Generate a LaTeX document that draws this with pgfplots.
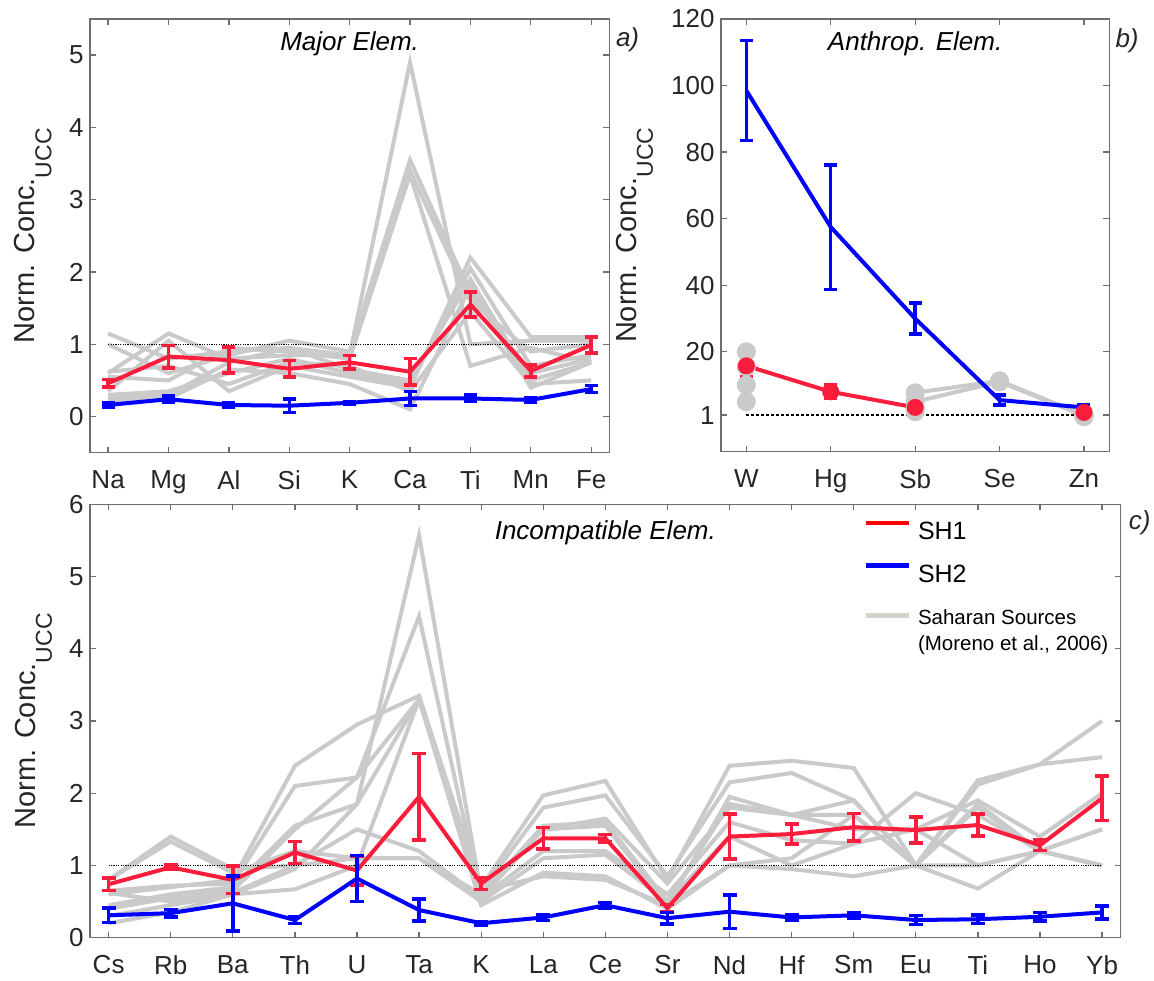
\documentclass[border=0pt]{standalone}
\usepackage{fontspec}
\setmainfont{Liberation Sans}
\usepackage{pgfplots}
\pgfplotsset{compat=1.18}

\definecolor{axgray}{RGB}{110,110,110}
\definecolor{txt}{RGB}{38,38,38}
\definecolor{sred}{RGB}{250,30,60}
\definecolor{sblue}{RGB}{0,0,255}
\definecolor{sgray}{RGB}{202,202,202}
\definecolor{lgray}{RGB}{214,210,204}

\pgfplotsset{
  base/.style={
    scale only axis, anchor=south west,
    axis line style={axgray, line width=1.3pt},
    every tick/.style={axgray, line width=1.3pt},
    major tick length=6pt,
    tick align=inside,
    xtick pos=both, ytick pos=both,
    ticklabel style={font=\fontsize{26}{26}\selectfont, text=txt},
    xticklabel style={yshift=-14pt},
    yticklabel style={xshift=-3pt},
    /pgf/number format/assume math mode=true,
    every axis y label/.style={rotate=90, anchor=south, inner sep=0pt, font=\fontsize{29}{29}\selectfont, text=txt},
    ylabel={Norm. Conc.\raisebox{-16.7pt}{\fontsize{23}{23}\selectfont UCC}},
    title style={at={(0.5,1)}, anchor=north, yshift=-18pt, inner sep=0pt, font=\fontsize{26}{26}\selectfont\itshape, text=black},
    unbounded coords=jump,
  },
  gline/.style={sgray, line width=4pt, forget plot, no markers},
  redline/.style={sred, line width=4pt, forget plot, mark=none,
    error bars/y dir=both, error bars/y explicit, error bars/error mark=|,
    error bars/error bar style={sred, line width=3.5pt},
    error bars/error mark options={sred, mark size=6.5pt, line width=3.5pt}},
  blueline/.style={sblue, line width=4pt, forget plot, mark=none,
    error bars/y dir=both, error bars/y explicit, error bars/error mark=|,
    error bars/error bar style={sblue, line width=3.5pt},
    error bars/error mark options={sblue, mark size=6.5pt, line width=3.5pt}},
}

\begin{document}
\begin{tikzpicture}
\useasboundingbox (0pt,0pt) rectangle (1154pt,980pt);

% ---------------- Panel a ----------------
\begin{axis}[base,
  at={(90pt,527.3pt)}, width=519.3pt, height=433.7pt,
  xmin=-0.3, xmax=8.3, ymin=-0.5, ymax=5.5,
  xtick={0,...,8}, xticklabels={Na,Mg,Al,Si,K,Ca,Ti,Mn,Fe},
  ytick={0,1,2,3,4,5},
  every axis y label/.append style={at={(axis description cs:-0.07375,0.5)}},
  title={Major Elem.},
  extra description/.code={\node[anchor=north west, inner sep=0pt, font=\fontsize{26}{26}\selectfont\itshape, text=txt, xshift=6.5pt, yshift=-8pt] at (1,1) {a)};},
]
\addplot[gline] coordinates {(0,1.15)(1,0.80)(2,0.90)(3,0.95)(4,0.85)(5,4.90)(6,1.00)(7,1.05)(8,1.05)};
\addplot[gline] coordinates {(0,1.00)(1,0.60)(2,0.85)(3,1.05)(4,0.90)(5,3.55)(6,1.70)(7,0.60)(8,0.80)};
\addplot[gline] coordinates {(0,0.60)(1,1.15)(2,0.80)(3,0.85)(4,0.85)(5,3.40)(6,1.60)(7,0.90)(8,1.00)};
\addplot[gline] coordinates {(0,0.55)(1,0.50)(2,0.95)(3,0.90)(4,0.80)(5,3.35)(6,0.70)(7,0.95)(8,0.75)};
\addplot[gline] coordinates {(0,0.35)(1,1.05)(2,0.35)(3,0.70)(4,0.55)(5,0.40)(6,2.20)(7,1.10)(8,1.10)};
\addplot[gline] coordinates {(0,0.30)(1,0.35)(2,0.60)(3,0.80)(4,0.60)(5,0.45)(6,2.05)(7,0.70)(8,0.85)};
\addplot[gline] coordinates {(0,0.25)(1,0.30)(2,0.75)(3,0.95)(4,0.65)(5,0.50)(6,1.90)(7,0.50)(8,0.75)};
\addplot[gline] coordinates {(0,0.20)(1,0.25)(2,0.65)(3,0.60)(4,0.45)(5,0.10)(6,1.80)(7,0.40)(8,0.75)};
\addplot[gline] coordinates {(0,0.62)(1,0.70)(2,0.45)(3,0.75)(4,0.70)(5,0.35)(6,1.45)(7,0.45)(8,0.50)};
\addplot[black, line width=1pt, dash pattern=on 1.2pt off 1.2pt, forget plot] coordinates {(0,1)(8,1)};
\addplot[redline] table[x=x, y=y, y error=e] {
x y e
0 0.46 0.05
1 0.83 0.155
2 0.78 0.18
3 0.66 0.115
4 0.75 0.095
5 0.62 0.185
6 1.55 0.17
7 0.63 0.08
8 0.99 0.11
};
\addplot[blueline] table[x=x, y=y, y error=e] {
x y e
0 0.16 0.03
1 0.24 0.045
2 0.16 0.03
3 0.15 0.095
4 0.19 0.02
5 0.25 0.10
6 0.25 0.045
7 0.23 0.035
8 0.38 0.05
};
\end{axis}

% ---------------- Panel b ----------------
\begin{axis}[base,
  at={(721pt,528.3pt)}, width=388.3pt, height=432.7pt,
  xmin=-0.3, xmax=4.3, ymin=-10, ymax=120,
  xtick={0,...,4}, xticklabels={W,Hg,Sb,Se,Zn},
  ytick={1,20,40,60,80,100,120},
  every axis y label/.append style={at={(axis description cs:-0.1743,0.5)}},
  title={Anthrop. Elem.},
  extra description/.code={\node[anchor=north west, inner sep=0pt, font=\fontsize{26}{26}\selectfont\itshape, text=txt, xshift=6pt, yshift=-9pt] at (1,1) {b)};},
]
\addplot[black, line width=2.5pt, dash pattern=on 2.5pt off 2.5pt, forget plot] coordinates {(0,1)(4,1)};
\addplot[sgray, line width=4pt, forget plot, mark=*, mark size=7.5pt] coordinates {(0,20)(1,nan)(2,7.7)(3,11.3)(4,1.0)};
\addplot[sgray, line width=4pt, forget plot, mark=*, mark size=7.5pt] coordinates {(0,15.5)(1,nan)(2,5)(3,11)(4,0.8)};
\addplot[sgray, line width=4pt, forget plot, mark=*, mark size=7.5pt] coordinates {(0,10)(1,nan)(2,2)(3,nan)(4,0.5)};
\addplot[sgray, line width=4pt, forget plot, mark=*, mark size=7.5pt] coordinates {(0,5)(1,nan)(2,3)(3,nan)(4,1.2)};
\addplot[redline, mark=*, mark size=6.5pt, mark options={solid, fill=sred, draw=sred}] table[x=x, y=y, y error=e] {
x y e
0 15.8 3.3
1 8.0 2.0
2 3.3 0.8
3 nan 0
4 1.8 0.3
};
\addplot[blueline] table[x=x, y=y, y error=e] {
x y e
0 98.5 15
1 57.5 18.7
2 30.0 4.6
3 5.5 1.5
4 3.3 0.8
};
\end{axis}

% ---------------- Panel c ----------------
\begin{axis}[base,
  at={(90pt,42.3pt)}, width=1030.7pt, height=433.4pt,
  xmin=-0.3, xmax=16.3, ymin=0, ymax=6,
  xtick={0,...,16}, xticklabels={Cs,Rb,Ba,Th,U,Ta,K,La,Ce,Sr,Nd,Hf,Sm,Eu,Ti,Ho,Yb},
  ytick={0,1,2,3,4,5,6},
  every axis y label/.append style={at={(axis description cs:-0.03658,0.5)}},
  title={Incompatible Elem.},
  title style={yshift=-4pt},
  extra description/.code={\node[anchor=north west, inner sep=0pt, font=\fontsize{26}{26}\selectfont\itshape, text=txt, xshift=8pt, yshift=-6pt] at (1,1) {c)};},
  legend style={at={(axis description cs:0.75,0.9626)}, anchor=north west, draw=none, fill=none,
    inner sep=0pt, outer sep=0pt, row sep=22pt,
    font=\fontsize{25}{26}\selectfont, text=black,
    nodes={inner sep=0pt},
    /tikz/every odd column/.style={column sep=7pt}},
  legend cell align=left,
]
\addlegendimage{legend image code/.code={\draw[red, line width=4.5pt] (0pt,9pt) -- (43pt,9pt);}}
\addlegendentry{SH1}
\addlegendimage{legend image code/.code={\draw[blue, line width=4.5pt] (0pt,9pt) -- (43pt,9pt);}}
\addlegendentry{SH2}
\addlegendimage{legend image code/.code={\draw[lgray, line width=5pt] (0pt,0pt) -- (43pt,0pt);}}
\addlegendentry{\fontsize{20.5}{26}\selectfont\begin{tabular}[t]{@{}l@{}}Saharan Sources\\(Moreno et al., 2006)\end{tabular}}

\addplot[gline] coordinates {(0,.45)(1,.60)(2,.70)(3,1.55)(4,1.85)(5,5.57)(6,.60)(7,1.55)(8,1.60)(9,.50)(10,1.85)(11,1.70)(12,1.70)(13,1.00)(14,1.85)(15,1.20)(16,1.00)};
\addplot[gline] coordinates {(0,.40)(1,.55)(2,.65)(3,1.50)(4,2.22)(5,4.45)(6,.55)(7,1.50)(8,1.55)(9,.45)(10,1.95)(11,1.70)(12,1.90)(13,1.00)(14,2.12)(15,2.40)(16,3.00)};
\addplot[gline] coordinates {(0,.60)(1,.70)(2,.80)(3,2.38)(4,2.95)(5,3.35)(6,.70)(7,1.97)(8,2.17)(9,.80)(10,2.38)(11,2.45)(12,2.35)(13,1.00)(14,2.18)(15,2.40)(16,2.50)};
\addplot[gline] coordinates {(0,.65)(1,.72)(2,.75)(3,2.10)(4,2.22)(5,3.30)(6,.65)(7,1.80)(8,1.97)(9,.85)(10,2.15)(11,2.28)(12,1.90)(13,1.00)(14,1.80)(15,1.20)(16,1.50)};
\addplot[gline] coordinates {(0,.80)(1,1.40)(2,.95)(3,1.00)(4,1.50)(5,1.20)(6,.55)(7,1.20)(8,1.20)(9,.60)(10,1.60)(11,1.35)(12,1.30)(13,2.00)(14,1.70)(15,1.20)(16,1.00)};
\addplot[gline] coordinates {(0,.80)(1,1.33)(2,.90)(3,1.20)(4,1.10)(5,1.10)(6,.50)(7,1.10)(8,1.15)(9,.50)(10,1.40)(11,1.00)(12,1.30)(13,1.50)(14,1.00)(15,1.20)(16,1.00)};
\addplot[gline] coordinates {(0,.30)(1,.45)(2,.60)(3,.67)(4,1.00)(5,3.30)(6,.45)(7,.90)(8,.85)(9,.40)(10,1.00)(11,.95)(12,.85)(13,1.00)(14,.68)(15,1.20)(16,1.00)};
\addplot[gline] coordinates {(0,.20)(1,.35)(2,.60)(3,.95)(4,1.85)(5,3.30)(6,.65)(7,.85)(8,.80)(9,.45)(10,1.00)(11,1.10)(12,1.70)(13,1.00)(14,1.00)(15,1.20)(16,1.50)};
\addplot[gline] coordinates {(0,.62)(1,.50)(2,.62)(3,1.00)(4,1.10)(5,1.10)(6,.60)(7,1.50)(8,1.65)(9,.75)(10,1.80)(11,1.70)(12,1.50)(13,1.50)(14,1.90)(15,1.40)(16,2.00)};
\addplot[black, line width=1pt, dash pattern=on 1.2pt off 1.2pt, forget plot] coordinates {(0,1)(16,1)};
\addplot[redline, error bars/error mark options={sred, mark size=7pt, line width=3.5pt}] table[x=x, y=y, y error=e] {
x y e
0 0.74 0.085
1 0.975 0.03
2 0.80 0.19
3 1.18 0.155
4 0.93 0.20
5 1.95 0.60
6 0.75 0.08
7 1.376 0.15
8 1.376 0.05
9 0.41 0.05
10 1.40 0.31
11 1.435 0.14
12 1.53 0.19
13 1.49 0.18
14 1.56 0.15
15 1.28 0.07
16 1.93 0.31
};
\addplot[blueline, error bars/error mark options={sblue, mark size=7pt, line width=3.5pt}] table[x=x, y=y, y error=e] {
x y e
0 0.31 0.10
1 0.34 0.05
2 0.476 0.38
3 0.245 0.05
4 0.82 0.32
5 0.383 0.15
6 0.20 0.025
7 0.28 0.04
8 0.45 0.04
9 0.27 0.08
10 0.36 0.23
11 0.28 0.04
12 0.31 0.04
13 0.245 0.06
14 0.255 0.06
15 0.29 0.06
16 0.35 0.09
};
\end{axis}
\end{tikzpicture}
\end{document}
